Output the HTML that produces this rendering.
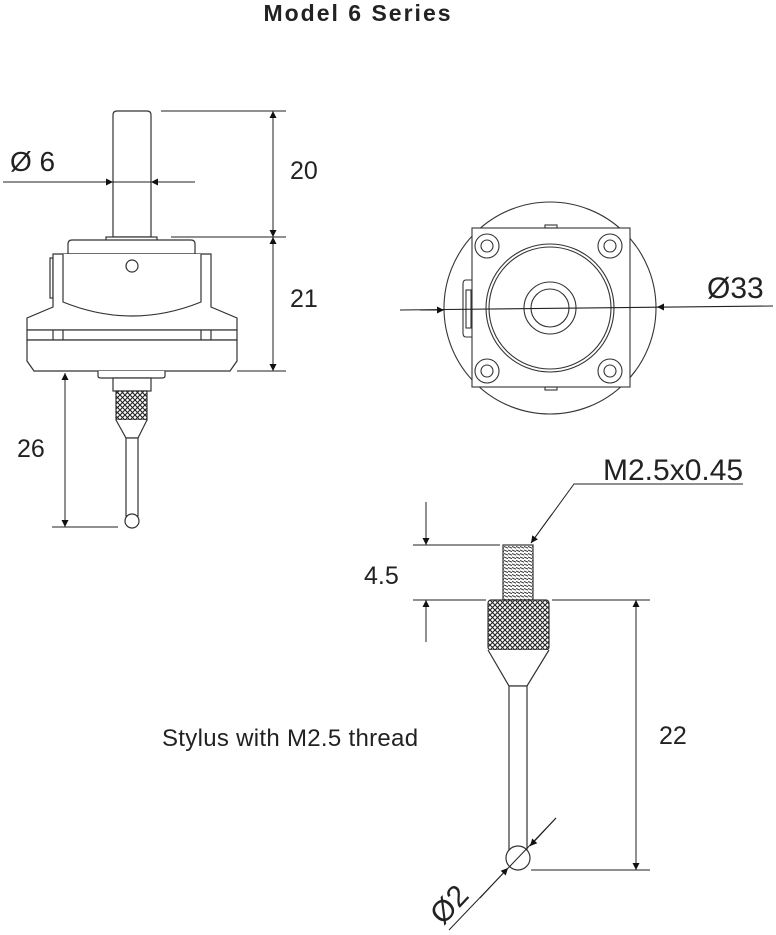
<!DOCTYPE html>
<html><head><style>
body{margin:0;background:#fff;}
svg{display:block;font-family:"Liberation Sans",Arial,sans-serif;}
</style></head><body>
<svg width="776" height="935" viewBox="0 0 776 935" xmlns="http://www.w3.org/2000/svg">
<defs>
<marker id="a" viewBox="0 0 10 10" refX="10" refY="5" markerWidth="18" markerHeight="7" markerUnits="userSpaceOnUse" orient="auto"><path d="M0,0L10,5L0,10z" fill="#111"/></marker>
<pattern id="kn" width="5" height="5" patternUnits="userSpaceOnUse"><rect width="5" height="5" fill="#fff"/><path d="M0,0L5,5M5,0L0,5" stroke="#222" stroke-width="1.1"/></pattern>
<pattern id="th" width="4" height="3.5" patternUnits="userSpaceOnUse"><rect width="4" height="3.5" fill="#fff"/><path d="M0,0.5L4,2.2" stroke="#333" stroke-width="1"/></pattern>
</defs>
<text x="358" y="21" font-size="23" font-weight="bold" text-anchor="middle" letter-spacing="2" fill="#222">Model 6 Series</text>

<g fill="#fff" stroke="#333" stroke-width="1.2">
<path d="M113,237V115Q113,111 117,111H147Q151,111 151,115V237Z"/>
<rect x="106" y="237" width="51" height="5"/>
<path d="M68,254V244Q68,240 72,240H191Q195,240 195,244V254Z"/>
<rect x="50" y="258" width="3" height="40"/>
<path d="M53,254H211V307L237,318V330H27V318L53,307Z"/>
<path d="M63,254V302Q132,330 201,302V254"/>
<rect x="27" y="330" width="210" height="10"/>
<path d="M53,330V340M63,330V340M201,330V340M211,330V340"/>
<path d="M27,340H237V361L230,371H34L27,361Z"/>
<circle cx="132" cy="266" r="6"/>
<path d="M98,371V376Q98,378 101,378H162Q165,378 165,376V371"/>
<rect x="113" y="378" width="38" height="13"/>
<rect x="116" y="391" width="31" height="29" fill="url(#kn)"/>
<path d="M116,420L126,438H138L147,420"/>
<rect x="126" y="438" width="12" height="78"/>
<circle cx="132" cy="521" r="7"/>
</g>
<g stroke="#222" stroke-width="1" fill="none">
<path d="M161,111H286M171,237H286M237,371H286M3,182H195M52,527H118"/>
<path d="M273,174V111" marker-end="url(#a)"/><path d="M273,174V237" marker-end="url(#a)"/>
<path d="M273,300V237" marker-end="url(#a)"/><path d="M273,300V371" marker-end="url(#a)"/>
<path d="M90,182H113" marker-end="url(#a)"/><path d="M175,182H151" marker-end="url(#a)"/>
<path d="M65,450V373" marker-end="url(#a)"/><path d="M65,450V527" marker-end="url(#a)"/>
</g>
<text x="10" y="171" font-size="28" fill="#222">Ø 6</text>
<text x="290" y="179" font-size="25" fill="#222">20</text>
<text x="290" y="307" font-size="25" fill="#222">21</text>
<text x="17" y="457" font-size="25" fill="#222">26</text>

<g fill="none" stroke="#333" stroke-width="1.1">
<circle cx="550" cy="308" r="106"/>
<rect x="472" y="228" width="158" height="159" fill="#fff"/>
<rect x="545" y="225" width="12" height="3"/><rect x="545" y="387" width="12" height="3"/>
<path d="M472,280H466Q463,280 463,284V333Q463,337 466,337H472"/>
<rect x="466" y="290" width="5" height="38"/>
<circle cx="550" cy="308" r="64"/><circle cx="550" cy="308" r="61"/>
<circle cx="550" cy="308" r="26"/><circle cx="550" cy="308" r="19"/>
<circle cx="487" cy="246" r="12"/><circle cx="487" cy="246" r="6"/>
<circle cx="610" cy="246" r="12"/><circle cx="610" cy="246" r="6"/>
<circle cx="487" cy="371" r="12"/><circle cx="487" cy="371" r="6"/>
<circle cx="610" cy="371" r="12"/><circle cx="610" cy="371" r="6"/>
<path d="M400,310L773,306" stroke="#222"/>
<path d="M420,310L444,310" stroke="#222" marker-end="url(#a)"/>
<path d="M680,307L657,307" stroke="#222" marker-end="url(#a)"/>
</g>
<text x="707" y="298" font-size="30" fill="#222">Ø33</text>

<g fill="#fff" stroke="#333" stroke-width="1.2">
<rect x="503" y="545" width="30" height="55" fill="url(#th)"/>
<rect x="488" y="600" width="61" height="50" rx="3" fill="url(#kn)"/>
<path d="M488,650L509,686H527L549,650"/>
<rect x="509" y="686" width="18" height="164"/>
<circle cx="518" cy="858" r="12"/>
</g>
<g stroke="#222" stroke-width="1" fill="none">
<path d="M413,545H500M413,600H486M552,600H650M531,870H650"/>
<path d="M426,502V545" marker-end="url(#a)"/><path d="M426,642V600" marker-end="url(#a)"/>
<path d="M636,735V600" marker-end="url(#a)"/><path d="M636,735V870" marker-end="url(#a)"/>
<path d="M743,484H574L531,543" /><path d="M552,514L531,543" marker-end="url(#a)"/>
<path d="M449,930L556,818"/>
<path d="M480,898L508,868" marker-end="url(#a)"/>
<path d="M556,818L530,846" marker-end="url(#a)"/>
</g>
<text x="603" y="480" font-size="30" fill="#222">M2.5x0.45</text>
<text x="364" y="584" font-size="25" fill="#222">4.5</text>
<text x="659" y="744" font-size="25" fill="#222">22</text>
<text x="0" y="0" font-size="30" fill="#222" transform="translate(443,926) rotate(-47)">Ø2</text>
<text x="162" y="746" font-size="24" letter-spacing="0.3" fill="#222">Stylus with M2.5 thread</text>
</svg>
</body></html>
